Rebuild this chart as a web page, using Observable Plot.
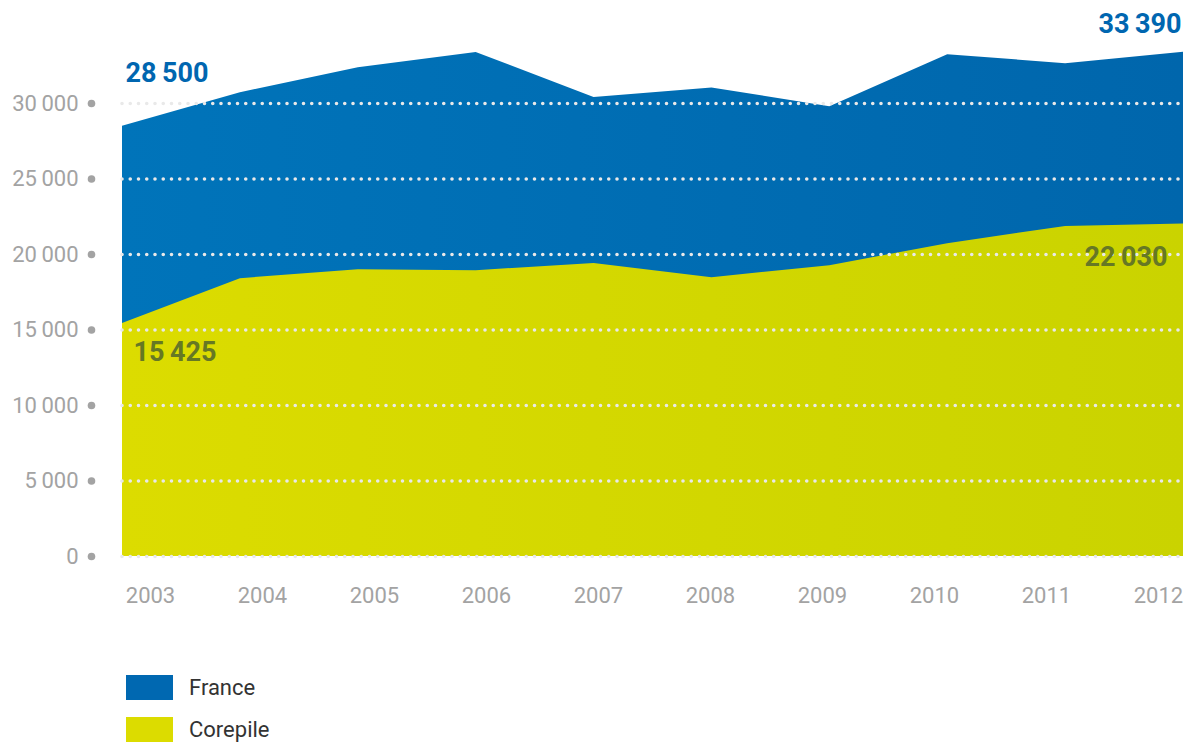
<!DOCTYPE html>
<html>
<head>
<meta charset="utf-8">
<script src="https://cdn.jsdelivr.net/npm/d3@7"></script>
<script src="https://cdn.jsdelivr.net/npm/@observablehq/plot@0.6"></script>
<style>
  html, body { margin: 0; padding: 0; background: #fff; }
  body { width: 1193px; height: 742px; overflow: hidden; font-family: Roboto, "Noto Sans", sans-serif; }
  #legend { position: relative; margin-top: 35px; }
  .row { display: flex; align-items: center; height: 25px; margin-left: 126px; margin-bottom: 17px; }
  .sw { width: 47px; height: 25px; margin-right: 16px; }
  .lab { font-size: 22px; color: #333; }
</style>
</head>
<body>
<div id="chart"></div>
<div id="legend">
  <div class="row"><div class="sw" style="background:#0068b1"></div><div class="lab">France</div></div>
  <div class="row"><div class="sw" style="background:#dcdc00"></div><div class="lab">Corepile</div></div>
</div>
<script>
const years = [2003, 2004, 2005, 2006, 2007, 2008, 2009, 2010, 2011, 2012];
const france = [28500, 30720, 32370, 33380, 30400, 31030, 29790, 33230, 32640, 33390];
const corepile = [15425, 18400, 19000, 18930, 19400, 18470, 19260, 20720, 21860, 22030];
const yTicks = [0, 5000, 10000, 15000, 20000, 25000, 30000];
const valueLabels = [
  {year: 2003, value: 28500, series: "France"},
  {year: 2012, value: 33390, series: "France"},
  {year: 2003, value: 15425, series: "Corepile"},
  {year: 2012, value: 22030, series: "Corepile"}
];

const data = years.map((y, i) => ({year: y, france: france[i], corepile: corepile[i]}));
const loc = d3.formatLocale({decimal: ",", thousands: "\u2009", grouping: [3], currency: ["", "€"]});
const fmt = loc.format(",d");

const defs = () => {
  const d = d3.create("svg:defs");
  const g1 = d.append("linearGradient").attr("id", "gFrance").attr("x1", 0).attr("x2", 1).attr("y1", 0).attr("y2", 0);
  g1.append("stop").attr("offset", "0%").attr("stop-color", "#0074ba");
  g1.append("stop").attr("offset", "100%").attr("stop-color", "#0066ac");
  const g2 = d.append("linearGradient").attr("id", "gCore").attr("x1", 0).attr("x2", 1).attr("y1", 0).attr("y2", 0);
  g2.append("stop").attr("offset", "0%").attr("stop-color", "#dcdc00");
  g2.append("stop").attr("offset", "100%").attr("stop-color", "#cad300");
  return d.node();
};

const textFont = "Roboto, 'Noto Sans', sans-serif";

const yearMarks = years.map((y, i) => Plot.text([y], {
  x: d => d, frameAnchor: "bottom", dy: 46, dx: 28 - 5.9 * i,
  text: d => String(d), fill: "#a3a3a3", fontSize: 22, textAnchor: "middle"
}));

const chart = Plot.plot({
  width: 1193,
  height: 640,
  marginLeft: 122,
  marginRight: 10,
  marginTop: 20,
  marginBottom: 84,
  style: {fontFamily: textFont, background: "transparent", overflow: "visible"},
  x: {domain: [2003, 2012], axis: null},
  y: {domain: [0, 35500], axis: null},
  marks: [
    defs,
    Plot.areaY(data, {x: "year", y1: 0, y2: "france", fill: "url(#gFrance)"}),
    Plot.areaY(data, {x: "year", y1: 0, y2: "corepile", fill: "url(#gCore)"}),
    Plot.ruleY(yTicks, {y: d => d, x1: 2003, x2: 2012, stroke: "#e9e9e9", strokeWidth: 3.6, strokeDasharray: "0 8.25", strokeLinecap: "round"}),
    Plot.text(yTicks, {y: d => d, frameAnchor: "left", dx: -44, textAnchor: "end", text: d => fmt(d), fill: "#a3a3a3", fontSize: 22}),
    Plot.dot(yTicks, {y: d => d, frameAnchor: "left", dx: -31, r: 3.8, fill: "#a3a3a3", stroke: null}),
    ...yearMarks,
    Plot.text(valueLabels.filter(d => d.series === "France" && d.year === 2003), {x: "year", y: "value", text: d => fmt(d.value), dx: 3, dy: -53, textAnchor: "start", fill: "#0066b0", fontSize: 27, fontWeight: "bold", letterSpacing: -0.3}),
    Plot.text(valueLabels.filter(d => d.series === "France" && d.year === 2012), {x: "year", y: "value", text: d => fmt(d.value), dx: -2, dy: -28, textAnchor: "end", fill: "#0066b0", fontSize: 27, fontWeight: "bold", letterSpacing: -0.3}),
    Plot.text(valueLabels.filter(d => d.series === "Corepile" && d.year === 2003), {x: "year", y: "value", text: d => fmt(d.value), dx: 11, dy: 29, textAnchor: "start", fill: "#667824", fontSize: 27, fontWeight: "bold", letterSpacing: -0.3}),
    Plot.text(valueLabels.filter(d => d.series === "Corepile" && d.year === 2012), {x: "year", y: "value", text: d => fmt(d.value), dx: -16, dy: 33, textAnchor: "end", fill: "#667824", fontSize: 27, fontWeight: "bold", letterSpacing: -0.3})
  ]
});
document.getElementById("chart").appendChild(chart);
</script>
</body>
</html>
